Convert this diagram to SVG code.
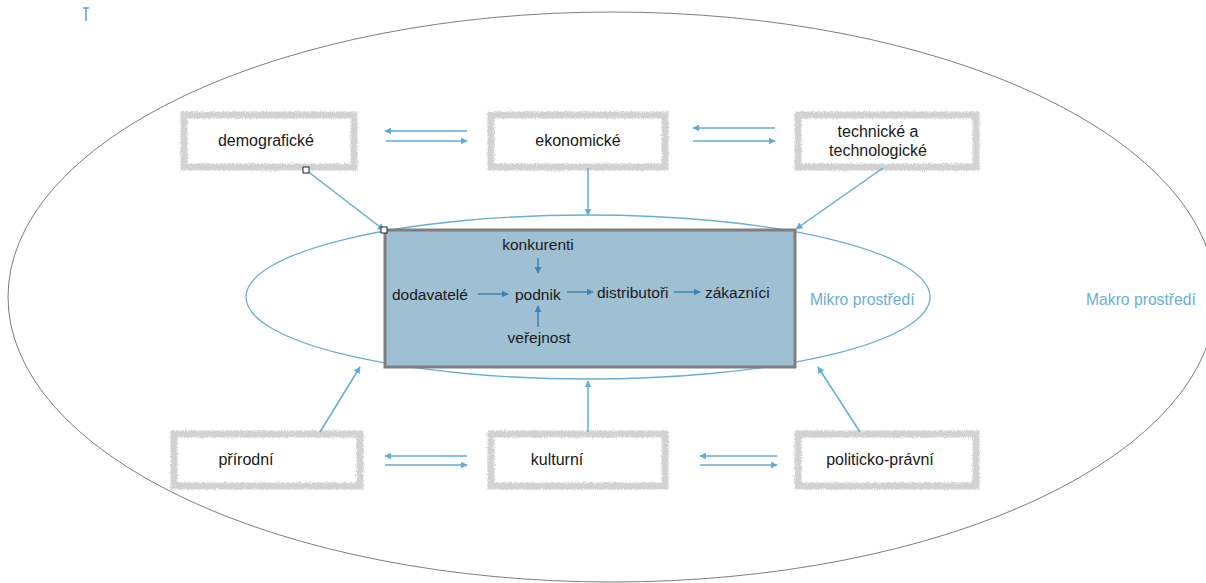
<svg xmlns="http://www.w3.org/2000/svg" width="1206" height="583" viewBox="0 0 1206 583">
  <style>
    .lbl { font-family: "Liberation Sans", Arial, sans-serif; font-size: 16px; fill: #1a1a1a; }
    .in { font-family: "Liberation Sans", Arial, sans-serif; font-size: 15.5px; fill: #1a1a1a; }
    .env { font-family: "Liberation Sans", Arial, sans-serif; font-size: 15.7px; fill: #6aaed6; }
    .frame { fill: #ffffff; stroke: #d2d2d2; stroke-width: 7; filter: url(#rough); }
    .link { stroke: #62acd6; stroke-width: 1.5; fill: none; marker-end: url(#head); }
    .inner { stroke: #3d85b0; stroke-width: 1.5; fill: none; marker-end: url(#headDark); }
    .handle { fill: #ffffff; stroke: #222222; stroke-width: 1; }
  </style>
  <defs>
    <filter id="rough" x="-10%" y="-20%" width="120%" height="140%">
      <feTurbulence type="fractalNoise" baseFrequency="0.9" numOctaves="2" seed="3" result="n"/>
      <feDisplacementMap in="SourceGraphic" in2="n" scale="5" xChannelSelector="R" yChannelSelector="G" result="d"/>
      <feGaussianBlur in="d" stdDeviation="0.5"/>
    </filter>
    <marker id="head" viewBox="0 0 10 10" refX="9" refY="5" markerWidth="7" markerHeight="7" orient="auto" markerUnits="userSpaceOnUse">
      <path d="M0,0 L10,5 L0,10 Z" fill="#62acd6"/>
    </marker>
    <marker id="headDark" viewBox="0 0 10 10" refX="9" refY="5" markerWidth="7" markerHeight="7" orient="auto" markerUnits="userSpaceOnUse">
      <path d="M0,0 L10,5 L0,10 Z" fill="#3d85b0"/>
    </marker>
  </defs>

  <rect width="1206" height="583" fill="#ffffff"/>

  <!-- text cursor mark -->
  <g id="cursor" stroke="#5b9bd5" stroke-width="1.5">
    <line x1="86" y1="8" x2="86" y2="21"/>
    <line x1="83" y1="8" x2="89" y2="8"/>
  </g>

  <!-- macro environment -->
  <g id="macro">
    <ellipse cx="612" cy="297" rx="604" ry="285" fill="none" stroke="#7d7d7d" stroke-width="1"/>
    <text class="env" x="1086" y="305">Makro prostředí</text>
  </g>

  <!-- micro environment -->
  <g id="micro">
    <ellipse cx="588" cy="297" rx="342" ry="82" fill="none" stroke="#6aaed6" stroke-width="1.3"/>
    <rect x="385" y="230" width="410" height="137" fill="#9fbfd3" stroke="#7f7f7f" stroke-width="3"/>
    <text class="env" x="810" y="305">Mikro prostředí</text>
  </g>

  <g id="konkurenti"><text class="in" x="538" y="250" text-anchor="middle">konkurenti</text></g>
  <g id="dodavatele"><text class="in" x="392" y="300">dodavatelé</text></g>
  <g id="podnik"><text class="in" x="515" y="300">podnik</text></g>
  <g id="distributori"><text class="in" x="597" y="298">distributoři</text></g>
  <g id="zakaznici"><text class="in" x="705" y="298">zákazníci</text></g>
  <g id="verejnost"><text class="in" x="539" y="343" text-anchor="middle">veřejnost</text></g>

  <!-- outer factors -->
  <g id="demograficke">
    <rect class="frame" x="184" y="115" width="170" height="52"/>
    <text class="lbl" x="266" y="146" text-anchor="middle">demografické</text>
  </g>
  <g id="ekonomicke">
    <rect class="frame" x="491" y="115" width="174" height="52"/>
    <text class="lbl" x="578" y="146" text-anchor="middle">ekonomické</text>
  </g>
  <g id="technicke">
    <rect class="frame" x="798" y="115" width="178" height="52"/>
    <text class="lbl" x="878" y="137" text-anchor="middle">technické a</text>
    <text class="lbl" x="878" y="156" text-anchor="middle">technologické</text>
  </g>
  <g id="prirodni">
    <rect class="frame" x="174" y="434" width="186" height="52"/>
    <text class="lbl" x="246" y="465" text-anchor="middle">přírodní</text>
  </g>
  <g id="kulturni">
    <rect class="frame" x="491" y="434" width="174" height="52"/>
    <text class="lbl" x="557" y="465" text-anchor="middle">kulturní</text>
  </g>
  <g id="politicko-pravni">
    <rect class="frame" x="798" y="434" width="178" height="52"/>
    <text class="lbl" x="880" y="465" text-anchor="middle">politicko-právní</text>
  </g>

  <!-- connectors -->
  <g id="connectors">
    <line class="link" x1="467" y1="131" x2="385" y2="131"/>
    <line class="link" x1="386" y1="141" x2="467" y2="141"/>
    <line class="link" x1="775" y1="128" x2="693" y2="128"/>
    <line class="link" x1="693" y1="141" x2="775" y2="141"/>
    <line class="link" x1="467" y1="456" x2="385" y2="456"/>
    <line class="link" x1="385" y1="465" x2="467" y2="465"/>
    <line class="link" x1="777" y1="456" x2="700" y2="456"/>
    <line class="link" x1="700" y1="465" x2="777" y2="465"/>

    <line class="link" x1="588" y1="168" x2="588" y2="215"/>
    <line class="link" x1="588" y1="432" x2="588" y2="381"/>
    <line class="link" x1="306" y1="170" x2="384" y2="230"/>
    <line class="link" x1="883" y1="168" x2="796" y2="229"/>
    <line class="link" x1="320" y1="432" x2="360" y2="367"/>
    <line class="link" x1="860" y1="432" x2="818" y2="367"/>

    <line class="inner" x1="538" y1="258" x2="538" y2="273"/>
    <line class="inner" x1="538" y1="327" x2="538" y2="306"/>
    <line class="inner" x1="478" y1="294" x2="508" y2="294"/>
    <line class="inner" x1="567" y1="292" x2="593" y2="292"/>
    <line class="inner" x1="674" y1="292" x2="700" y2="292"/>

    <rect class="handle" x="303" y="167" width="6" height="6"/>
    <rect class="handle" x="381" y="227" width="6" height="6"/>
  </g>
</svg>
